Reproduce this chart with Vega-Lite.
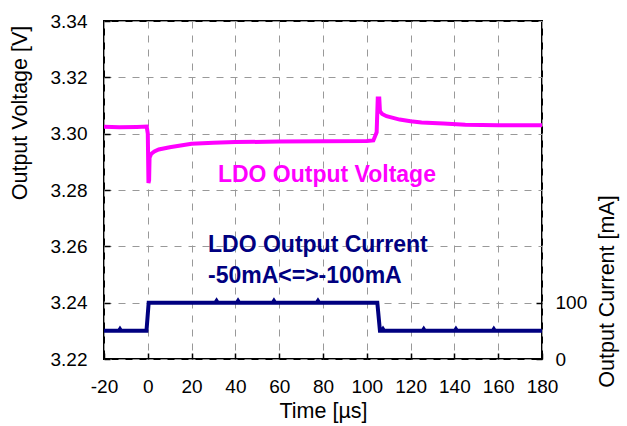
{
  "$schema": "https://vega.github.io/schema/vega-lite/v6.json",
  "width": 438,
  "height": 338,
  "autosize": {"type": "none"},
  "padding": {"left": 104, "top": 21, "right": 85, "bottom": 67},
  "background": "white",
  "config": {
    "font": "Liberation Sans",
    "view": {"stroke": "black", "strokeWidth": 2},
    "axis": {
      "domain": false,
      "labelFont": "Liberation Sans",
      "titleFont": "Liberation Sans",
      "labelFontSize": 19,
      "titleFontSize": 21.5,
      "titleFontWeight": "normal",
      "labelColor": "black",
      "titleColor": "black",
      "tickColor": "black",
      "tickWidth": 1.5,
      "gridColor": "#999999",
      "gridDash": [7, 7],
      "gridWidth": 1,
      "labelFlush": false,
      "labelOverlap": false
    }
  },
  "datasets": {
    "voltage": [
      {"t": -20, "v": 3.3025},
      {"t": -13, "v": 3.3023},
      {"t": -5, "v": 3.3024},
      {"t": -0.5, "v": 3.3025},
      {"t": 0, "v": 3.3},
      {"t": 0.3, "v": 3.2825},
      {"t": 0.6, "v": 3.2835},
      {"t": 0.8, "v": 3.2915},
      {"t": 1.5, "v": 3.2928},
      {"t": 3, "v": 3.2937},
      {"t": 5, "v": 3.2944},
      {"t": 10, "v": 3.2952},
      {"t": 15, "v": 3.2958},
      {"t": 20, "v": 3.2964},
      {"t": 30, "v": 3.2968},
      {"t": 40, "v": 3.297},
      {"t": 60, "v": 3.2972},
      {"t": 80, "v": 3.2973},
      {"t": 100, "v": 3.2974},
      {"t": 103, "v": 3.2976},
      {"t": 104, "v": 3.2995},
      {"t": 104.5, "v": 3.3005},
      {"t": 105, "v": 3.3125},
      {"t": 105.7, "v": 3.3125},
      {"t": 106, "v": 3.308},
      {"t": 107, "v": 3.307},
      {"t": 109, "v": 3.3062},
      {"t": 112, "v": 3.3056},
      {"t": 115, "v": 3.305},
      {"t": 120, "v": 3.3044},
      {"t": 125, "v": 3.304},
      {"t": 135, "v": 3.3036},
      {"t": 145, "v": 3.3032},
      {"t": 160, "v": 3.303},
      {"t": 180, "v": 3.303}
    ],
    "current": [
      {"t": -20, "mA": 50},
      {"t": -13.2, "mA": 50},
      {"t": -12.7, "mA": 53},
      {"t": -12.2, "mA": 50},
      {"t": -0.6, "mA": 50},
      {"t": 0.4, "mA": 100},
      {"t": 30.9, "mA": 100},
      {"t": 31.4, "mA": 103},
      {"t": 31.9, "mA": 100},
      {"t": 40.7, "mA": 100},
      {"t": 41.2, "mA": 103},
      {"t": 41.7, "mA": 100},
      {"t": 57.1, "mA": 100},
      {"t": 57.6, "mA": 103},
      {"t": 58.1, "mA": 100},
      {"t": 77.2, "mA": 100},
      {"t": 77.7, "mA": 103},
      {"t": 78.2, "mA": 100},
      {"t": 104.8, "mA": 100},
      {"t": 106, "mA": 50},
      {"t": 106.9, "mA": 50},
      {"t": 107.4, "mA": 53},
      {"t": 107.9, "mA": 50},
      {"t": 125.5, "mA": 50},
      {"t": 126, "mA": 53},
      {"t": 126.5, "mA": 50},
      {"t": 140.2, "mA": 50},
      {"t": 140.7, "mA": 53},
      {"t": 141.2, "mA": 50},
      {"t": 157.5, "mA": 50},
      {"t": 158, "mA": 53},
      {"t": 158.5, "mA": 50},
      {"t": 180, "mA": 50}
    ],
    "labels": [
      {"t": 32, "v": 3.2853, "label": "LDO Output Voltage", "series": "Voltage"},
      {"t": 27.5, "v": 3.2604, "label": "LDO Output Current", "series": "Current"},
      {"t": 27.5, "v": 3.2495, "label": "-50mA<=>-100mA", "series": "Current"}
    ]
  },
  "layer": [
    {
      "data": {"name": "voltage"},
      "mark": {"type": "line", "color": "#FF00FF", "strokeWidth": 4, "strokeJoin": "miter", "clip": true},
      "encoding": {
        "x": {
          "field": "t", "type": "quantitative",
          "scale": {"domain": [-20, 180], "nice": false, "zero": false},
          "axis": {
            "values": [-20, 0, 20, 40, 60, 80, 100, 120, 140, 160, 180],
            "labelExpr": "datum.value + ''",
            "grid": true,
            "tickSize": -6,
            "labelPadding": 24,
            "title": "Time [µs]",
            "titleBaseline": "alphabetic",
            "titleY": 58
          }
        },
        "y": {
          "field": "v", "type": "quantitative",
          "scale": {"domain": [3.22, 3.34], "nice": false, "zero": false},
          "axis": {
            "values": [3.22, 3.24, 3.26, 3.28, 3.3, 3.32, 3.34],
            "format": ".2f",
            "grid": true,
            "tickSize": -6,
            "labelPadding": 23,
            "title": "Output Voltage [V]",
            "titleAngle": -90,
            "titleAlign": "center",
            "titleBaseline": "middle",
            "titleX": -84,
            "titleY": 91.5
          }
        }
      }
    },
    {
      "data": {"name": "current"},
      "mark": {"type": "line", "color": "#000080", "strokeWidth": 4, "strokeJoin": "miter", "clip": true},
      "encoding": {
        "x": {"field": "t", "type": "quantitative"},
        "y": {
          "field": "mA", "type": "quantitative",
          "scale": {"domain": [0, 600], "nice": false},
          "axis": {
            "orient": "right",
            "values": [0, 100],
            "grid": false,
            "tickSize": -6,
            "labelPadding": 19,
            "title": "Output Current [mA]",
            "titleAngle": -90,
            "titleAlign": "center",
            "titleBaseline": "middle",
            "titleX": 65,
            "titleY": 270
          }
        }
      }
    },
    {
      "data": {"name": "labels"},
      "mark": {"type": "text", "fontWeight": "bold", "fontSize": 23, "align": "left", "baseline": "middle", "font": "Liberation Sans"},
      "encoding": {
        "x": {"field": "t", "type": "quantitative"},
        "y": {
          "field": "v", "type": "quantitative",
          "scale": {"domain": [3.22, 3.34], "nice": false, "zero": false},
          "axis": null
        },
        "text": {"field": "label"},
        "color": {
          "field": "series", "type": "nominal",
          "scale": {"domain": ["Voltage", "Current"], "range": ["#FF00FF", "#000080"]},
          "legend": null
        }
      }
    }
  ],
  "resolve": {"scale": {"y": "independent"}}
}
